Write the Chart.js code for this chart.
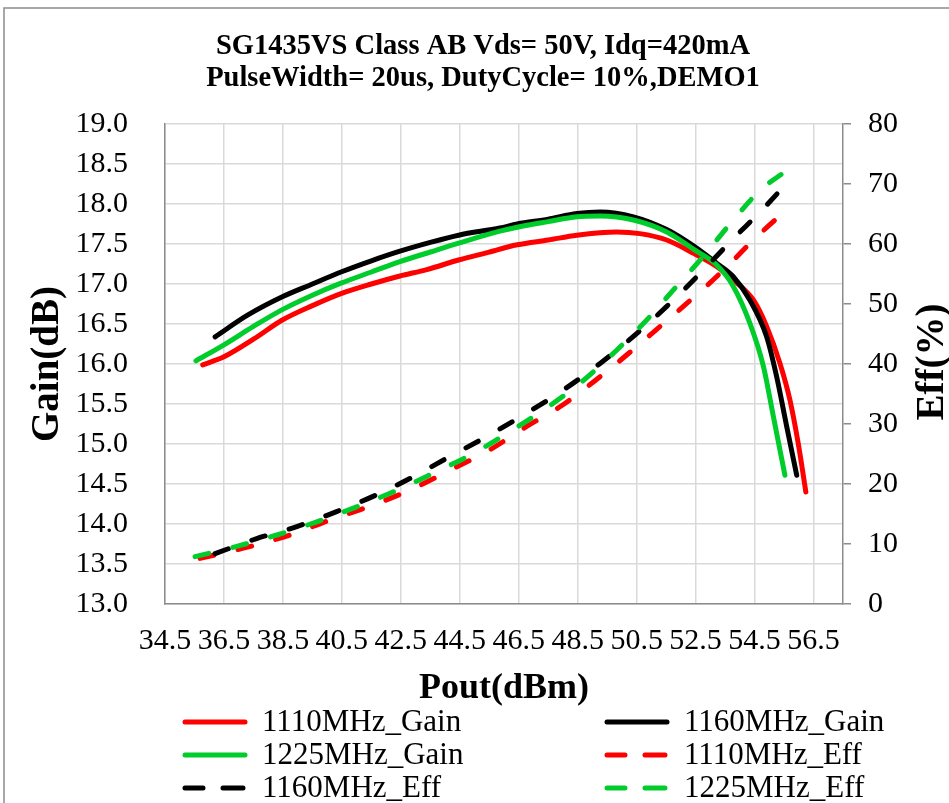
<!DOCTYPE html>
<html><head><meta charset="utf-8">
<script src="https://cdn.jsdelivr.net/npm/chart.js@4.4.0/dist/chart.umd.min.js"></script>
<style>html,body{margin:0;padding:0;background:#fff;}#wrap{width:949px;height:803px;}</style>
</head><body><div id="wrap"><canvas id="c" width="949" height="803"></canvas></div>
<script>
// ---- data ----
const titleLines = ["SG1435VS Class AB Vds= 50V, Idq=420mA", "PulseWidth= 20us, DutyCycle= 10%,DEMO1"];
const xTitle = "Pout(dBm)";
const yTitle = "Gain(dB)";
const y2Title = "Eff(%)";
const xTickValues = [34.5, 36.5, 38.5, 40.5, 42.5, 44.5, 46.5, 48.5, 50.5, 52.5, 54.5, 56.5];
const seriesNames = ["1110MHz_Gain", "1160MHz_Gain", "1225MHz_Gain", "1110MHz_Eff", "1160MHz_Eff", "1225MHz_Eff"];

const pout1110Gain = [35.78, 36.5, 37.5, 38.48, 39.5, 40.47, 41.5, 42.47, 43.38, 44.46, 45.4, 46.45, 47.5, 48.47, 49.82, 50.61, 51.52, 52.45, 53.21, 53.78, 54.46, 54.91, 55.36, 55.7, 55.98, 56.24];
const gain1110 = [15.99, 16.09, 16.31, 16.55, 16.73, 16.88, 17.0, 17.1, 17.18, 17.3, 17.39, 17.49, 17.55, 17.61, 17.65, 17.63, 17.55, 17.38, 17.22, 17.05, 16.8, 16.47, 16.01, 15.55, 15.01, 14.4];

const pout1160Gain = [36.2, 37.3, 38.48, 39.5, 40.47, 41.5, 42.47, 43.5, 44.46, 45.86, 46.45, 47.5, 48.47, 49.26, 50.39, 51.52, 52.45, 53.21, 53.78, 54.34, 54.91, 55.25, 55.59, 55.93];
const gain1160 = [16.34, 16.61, 16.84, 17.0, 17.15, 17.29, 17.41, 17.52, 17.61, 17.7, 17.75, 17.81, 17.88, 17.9, 17.84, 17.68, 17.47, 17.26, 17.09, 16.8, 16.34, 15.84, 15.22, 14.61];

const pout1225Gain = [35.55, 36.5, 37.5, 38.48, 39.5, 40.47, 41.5, 42.47, 43.5, 44.46, 45.86, 46.45, 47.5, 48.47, 49.26, 50.39, 51.52, 52.45, 53.21, 53.78, 54.34, 54.8, 55.14, 55.53];
const gain1225 = [16.04, 16.24, 16.47, 16.68, 16.86, 17.01, 17.15, 17.28, 17.4, 17.51, 17.66, 17.71, 17.78, 17.84, 17.85, 17.8, 17.65, 17.43, 17.24, 16.97, 16.51, 15.97, 15.34, 14.61];

const pout1110Eff = [35.69, 37.16, 38.74, 40.1, 41.45, 42.81, 44.17, 45.52, 46.77, 48.0, 49.03, 49.82, 50.95, 52.2, 53.33, 54.57, 55.59];
const eff1110 = [7.6, 9.3, 11.5, 14.0, 16.3, 19.0, 22.3, 25.7, 29.6, 33.2, 37.0, 40.1, 44.8, 50.1, 55.1, 61.2, 65.7];

const pout1160Eff = [36.2, 37.61, 38.97, 40.32, 41.68, 42.92, 44.17, 45.41, 46.66, 47.9, 49.26, 50.39, 51.52, 52.65, 53.78, 54.7, 55.59];
const eff1160 = [8.4, 10.9, 12.9, 15.4, 18.2, 21.2, 24.6, 27.9, 31.5, 35.3, 40.1, 44.6, 49.6, 55.1, 60.9, 65.4, 70.1];

const pout1225Eff = [35.52, 36.93, 38.29, 39.65, 41.0, 42.25, 43.6, 44.85, 46.09, 47.33, 48.58, 49.82, 50.95, 51.74, 52.65, 53.78, 54.7, 55.53];
const eff1225 = [7.9, 9.6, 11.5, 13.7, 16.2, 18.7, 21.8, 24.8, 28.4, 32.3, 36.8, 42.3, 47.9, 52.3, 57.3, 64.0, 69.0, 72.05];

const RED = "#ff0000", BLACK = "#000000", GREEN = "#00cc2c";
const SERIF = '"Liberation Serif", "Times New Roman", serif';

function pts(xs, ys) { return xs.map((x, i) => ({x: x, y: ys[i]})); }

function ds(name, xs, ys, color, axis, dashed, idx) {
  return {
    label: name, data: pts(xs, ys), yAxisID: axis,
    borderColor: color, backgroundColor: color, borderWidth: 5,
    borderDash: dashed ? [14, 25] : [], borderCapStyle: 'round', borderJoinStyle: 'round',
    pointRadius: 0, pointHoverRadius: 0, fill: false,
    cubicInterpolationMode: 'monotone', order: -idx, dashed: dashed
  };
}

const datasets = [
  ds(seriesNames[0], pout1110Gain, gain1110, RED, 'y', false, 0),
  ds(seriesNames[1], pout1160Gain, gain1160, BLACK, 'y', false, 1),
  ds(seriesNames[2], pout1225Gain, gain1225, GREEN, 'y', false, 2),
  ds(seriesNames[3], pout1110Eff, eff1110, RED, 'y2', true, 3),
  ds(seriesNames[4], pout1160Eff, eff1160, BLACK, 'y2', true, 4),
  ds(seriesNames[5], pout1225Eff, eff1225, GREEN, 'y2', true, 5)
];

const decor = {
  id: 'decor',
  beforeDraw(chart) {
    const ctx = chart.ctx;
    ctx.save();
    ctx.fillStyle = '#fff';
    ctx.fillRect(0, 0, chart.width, chart.height);
    ctx.strokeStyle = '#8c8c8c';
    ctx.lineWidth = 1.5;
    ctx.strokeRect(4, 8, 1000, 1000);
    ctx.restore();
  },
  afterDraw(chart) {
    const ctx = chart.ctx;
    ctx.save();
    // title
    ctx.fillStyle = '#000';
    ctx.textAlign = 'center';
    ctx.textBaseline = 'middle';
    ctx.font = 'bold 28.5px ' + SERIF;
    ctx.fillText(titleLines[0], 483, 47);
    ctx.fillText(titleLines[1], 483, 79);
    // right axis title
    ctx.save();
    ctx.translate(933, 362);
    ctx.rotate(-Math.PI / 2);
    ctx.font = 'bold 39px ' + SERIF;
    ctx.fillText(y2Title, 0, 0);
    ctx.restore();
    // legend
    const colX = [183, 605];
    const rowY = [722, 755, 788];
    ctx.font = '31px ' + SERIF;
    ctx.textAlign = 'left';
    chart.data.datasets.forEach((d, i) => {
      const x0 = colX[i % 2], y = rowY[Math.floor(i / 2)];
      ctx.strokeStyle = d.borderColor;
      ctx.lineWidth = 5;
      ctx.lineCap = 'round';
      ctx.beginPath();
      if (d.dashed) {
        ctx.moveTo(x0 + 2, y); ctx.lineTo(x0 + 20, y);
        ctx.moveTo(x0 + 40, y); ctx.lineTo(x0 + 60, y);
      } else {
        ctx.moveTo(x0 + 2, y); ctx.lineTo(x0 + 62, y);
      }
      ctx.stroke();
      ctx.fillStyle = '#000';
      ctx.fillText(d.label, x0 + 79, y + 1);
    });
    ctx.restore();
  }
};

new Chart(document.getElementById('c'), {
  type: 'line',
  data: {datasets: datasets},
  options: {
    responsive: false, animation: false, devicePixelRatio: 1,
    layout: {padding: {top: 124, left: 0, right: 0, bottom: 89}},
    plugins: {legend: {display: false}, title: {display: false}, tooltip: {enabled: false}},
    scales: {
      x: {
        type: 'linear', min: 34.5, max: 57.5,
        afterBuildTicks: (s) => { s.ticks = xTickValues.map(v => ({value: v})); },
        afterFit: (s) => { s.height = 110; },
        grid: {color: '#d9d9d9', lineWidth: 1.5, drawTicks: false},
        border: {color: '#8c8c8c', width: 1.5},
        ticks: {autoSkip: false, maxRotation: 0, minRotation: 0, padding: 19, color: '#000',
          font: {family: SERIF, size: 30}, callback: (v) => Number(v).toFixed(1)},
        title: {display: true, text: xTitle, color: '#000', padding: {top: 0, bottom: 4},
          font: {family: SERIF, size: 36, weight: 'bold'}}
      },
      y: {
        type: 'linear', position: 'left', min: 13, max: 19,
        afterFit: (s) => { s.width = 165; },
        grid: {color: '#d9d9d9', lineWidth: 1.5, drawTicks: false},
        border: {color: '#8c8c8c', width: 1.5},
        ticks: {stepSize: 0.5, padding: 37, color: '#000', font: {family: SERIF, size: 30},
          callback: (v) => Number(v).toFixed(1)},
        title: {display: true, text: yTitle, color: '#000', padding: {top: 25, bottom: 0},
          font: {family: SERIF, size: 39, weight: 'bold'}}
      },
      y2: {
        type: 'linear', position: 'right', min: 0, max: 80,
        afterFit: (s) => { s.width = 106; },
        grid: {display: true, drawOnChartArea: false, drawTicks: true, tickLength: 8, color: '#8c8c8c', lineWidth: 1.5},
        border: {color: '#8c8c8c', width: 1.5},
        ticks: {stepSize: 10, padding: 17, color: '#000', font: {family: SERIF, size: 30}},
        title: {display: false}
      }
    }
  },
  plugins: [decor]
});
</script>
</body></html>
